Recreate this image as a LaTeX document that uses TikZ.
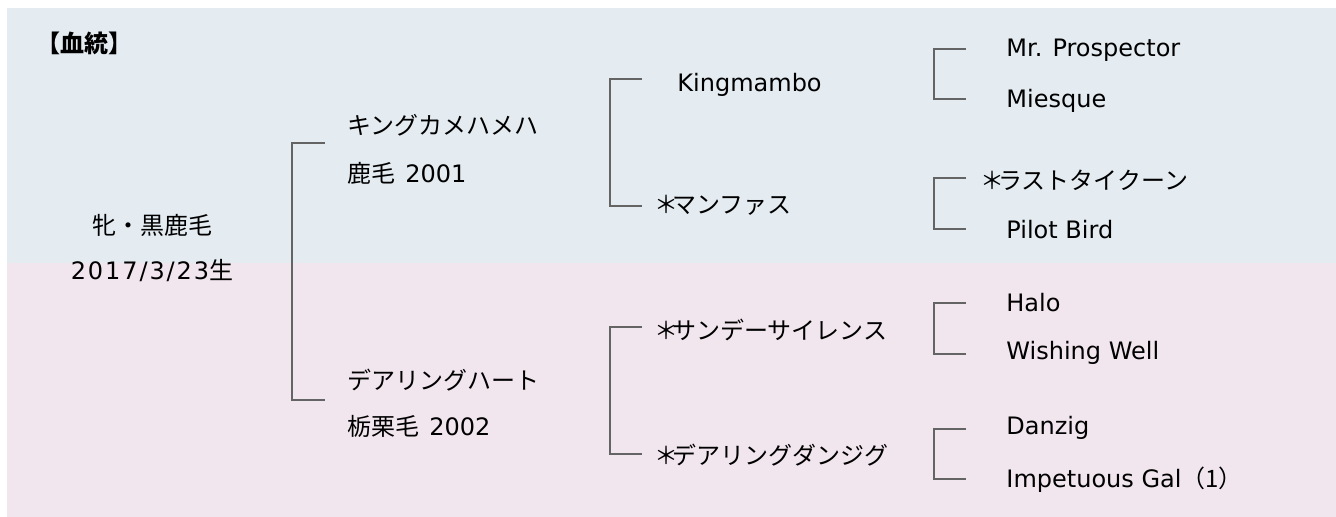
\documentclass[tikz,border=0pt]{standalone}
\usepackage{fontspec}
\setmainfont{DejaVu Sans}
\newfontfamily\jp{Noto Sans CJK JP}
\newfontfamily\latw[LetterSpace=8]{DejaVu Sans}
\newcommand{\mystar}{{\jp ＊\kern-3pt}}
\definecolor{bgblue}{RGB}{228,236,242}
\definecolor{bgpink}{RGB}{242,230,238}
\definecolor{linegray}{RGB}{100,100,100}
\begin{document}
\begin{tikzpicture}[x=0.5pt,y=-0.5pt,
  txt/.style={inner sep=0pt,anchor=west,font=\fontsize{12}{14}\selectfont},
  ctxt/.style={inner sep=0pt,anchor=center,font=\fontsize{12}{14}\selectfont},
  bracket/.style={draw=linegray,line width=0.75pt}]
\useasboundingbox (0,0) rectangle (1336,517);
\fill[bgblue] (7,8) rectangle (1336,263);
\fill[bgpink] (7,263) rectangle (1336,517);
% title
\node[txt,font=\fontsize{12}{14}\selectfont\jp\bfseries] (title) at (36,43) {【血統】};
% subject
\node[ctxt] (s1) at (152,225) {\jp 牝・黒鹿毛};
\node[ctxt] (s2) at (152,271) {\latw 2017/3/23{\jp 生}};
% generation 1
\node[txt] (sire) at (347,125) {\jp キングカメハメハ};
\node[txt] (sire2) at (347,173) {{\jp 鹿毛}\hspace{5pt}2001};
\node[txt] (dam) at (347,380) {\jp デアリングハート};
\node[txt] (dam2) at (347,426) {{\jp 栃栗毛}\hspace{5pt}2002};
% generation 2
\node[txt] (ss) at (677,85) {Kingmambo};
\node[txt] (sd) at (654,205) {\mystar{\jp マンファス}};
\node[txt] (ds) at (654,330) {\mystar{\jp サンデーサイレンス}};
\node[txt] (dd) at (654,455) {\mystar{\jp デアリングダンジグ}};
% generation 3
\node[txt] (sss) at (1006,50) {Mr. Prospector};
\node[txt] (ssd) at (1006,101) {Miesque};
\node[txt] (sds) at (980,180) {\mystar{\jp ラストタイクーン}};
\node[txt] (sdd) at (1006,230) {Pilot Bird};
\node[txt] (dss) at (1006,303) {Halo};
\node[txt] (dsd) at (1006,353) {Wishing Well};
\node[txt] (dds) at (1006,428) {Danzig};
\node[txt] (ddd) at (1006,480) {Impetuous Gal{\jp （1）}};
% bracket coordinates
\coordinate (b1t) at (325,143); \coordinate (b1b) at (325,400);
\coordinate (b2t) at (642,79);  \coordinate (b2b) at (642,206);
\coordinate (b3t) at (642,327); \coordinate (b3b) at (642,454);
\coordinate (b4t) at (966,49);  \coordinate (b4b) at (966,99);
\coordinate (b5t) at (966,178); \coordinate (b5b) at (966,229);
\coordinate (b6t) at (966,303); \coordinate (b6b) at (966,354);
\coordinate (b7t) at (966,429); \coordinate (b7b) at (966,479);
\draw[bracket] (b1t) -- ++(-33,0) |- (b1b);
\draw[bracket] (b2t) -- ++(-32,0) |- (b2b);
\draw[bracket] (b3t) -- ++(-32,0) |- (b3b);
\draw[bracket] (b4t) -- ++(-32,0) |- (b4b);
\draw[bracket] (b5t) -- ++(-32,0) |- (b5b);
\draw[bracket] (b6t) -- ++(-32,0) |- (b6b);
\draw[bracket] (b7t) -- ++(-32,0) |- (b7b);
\end{tikzpicture}
\end{document}
